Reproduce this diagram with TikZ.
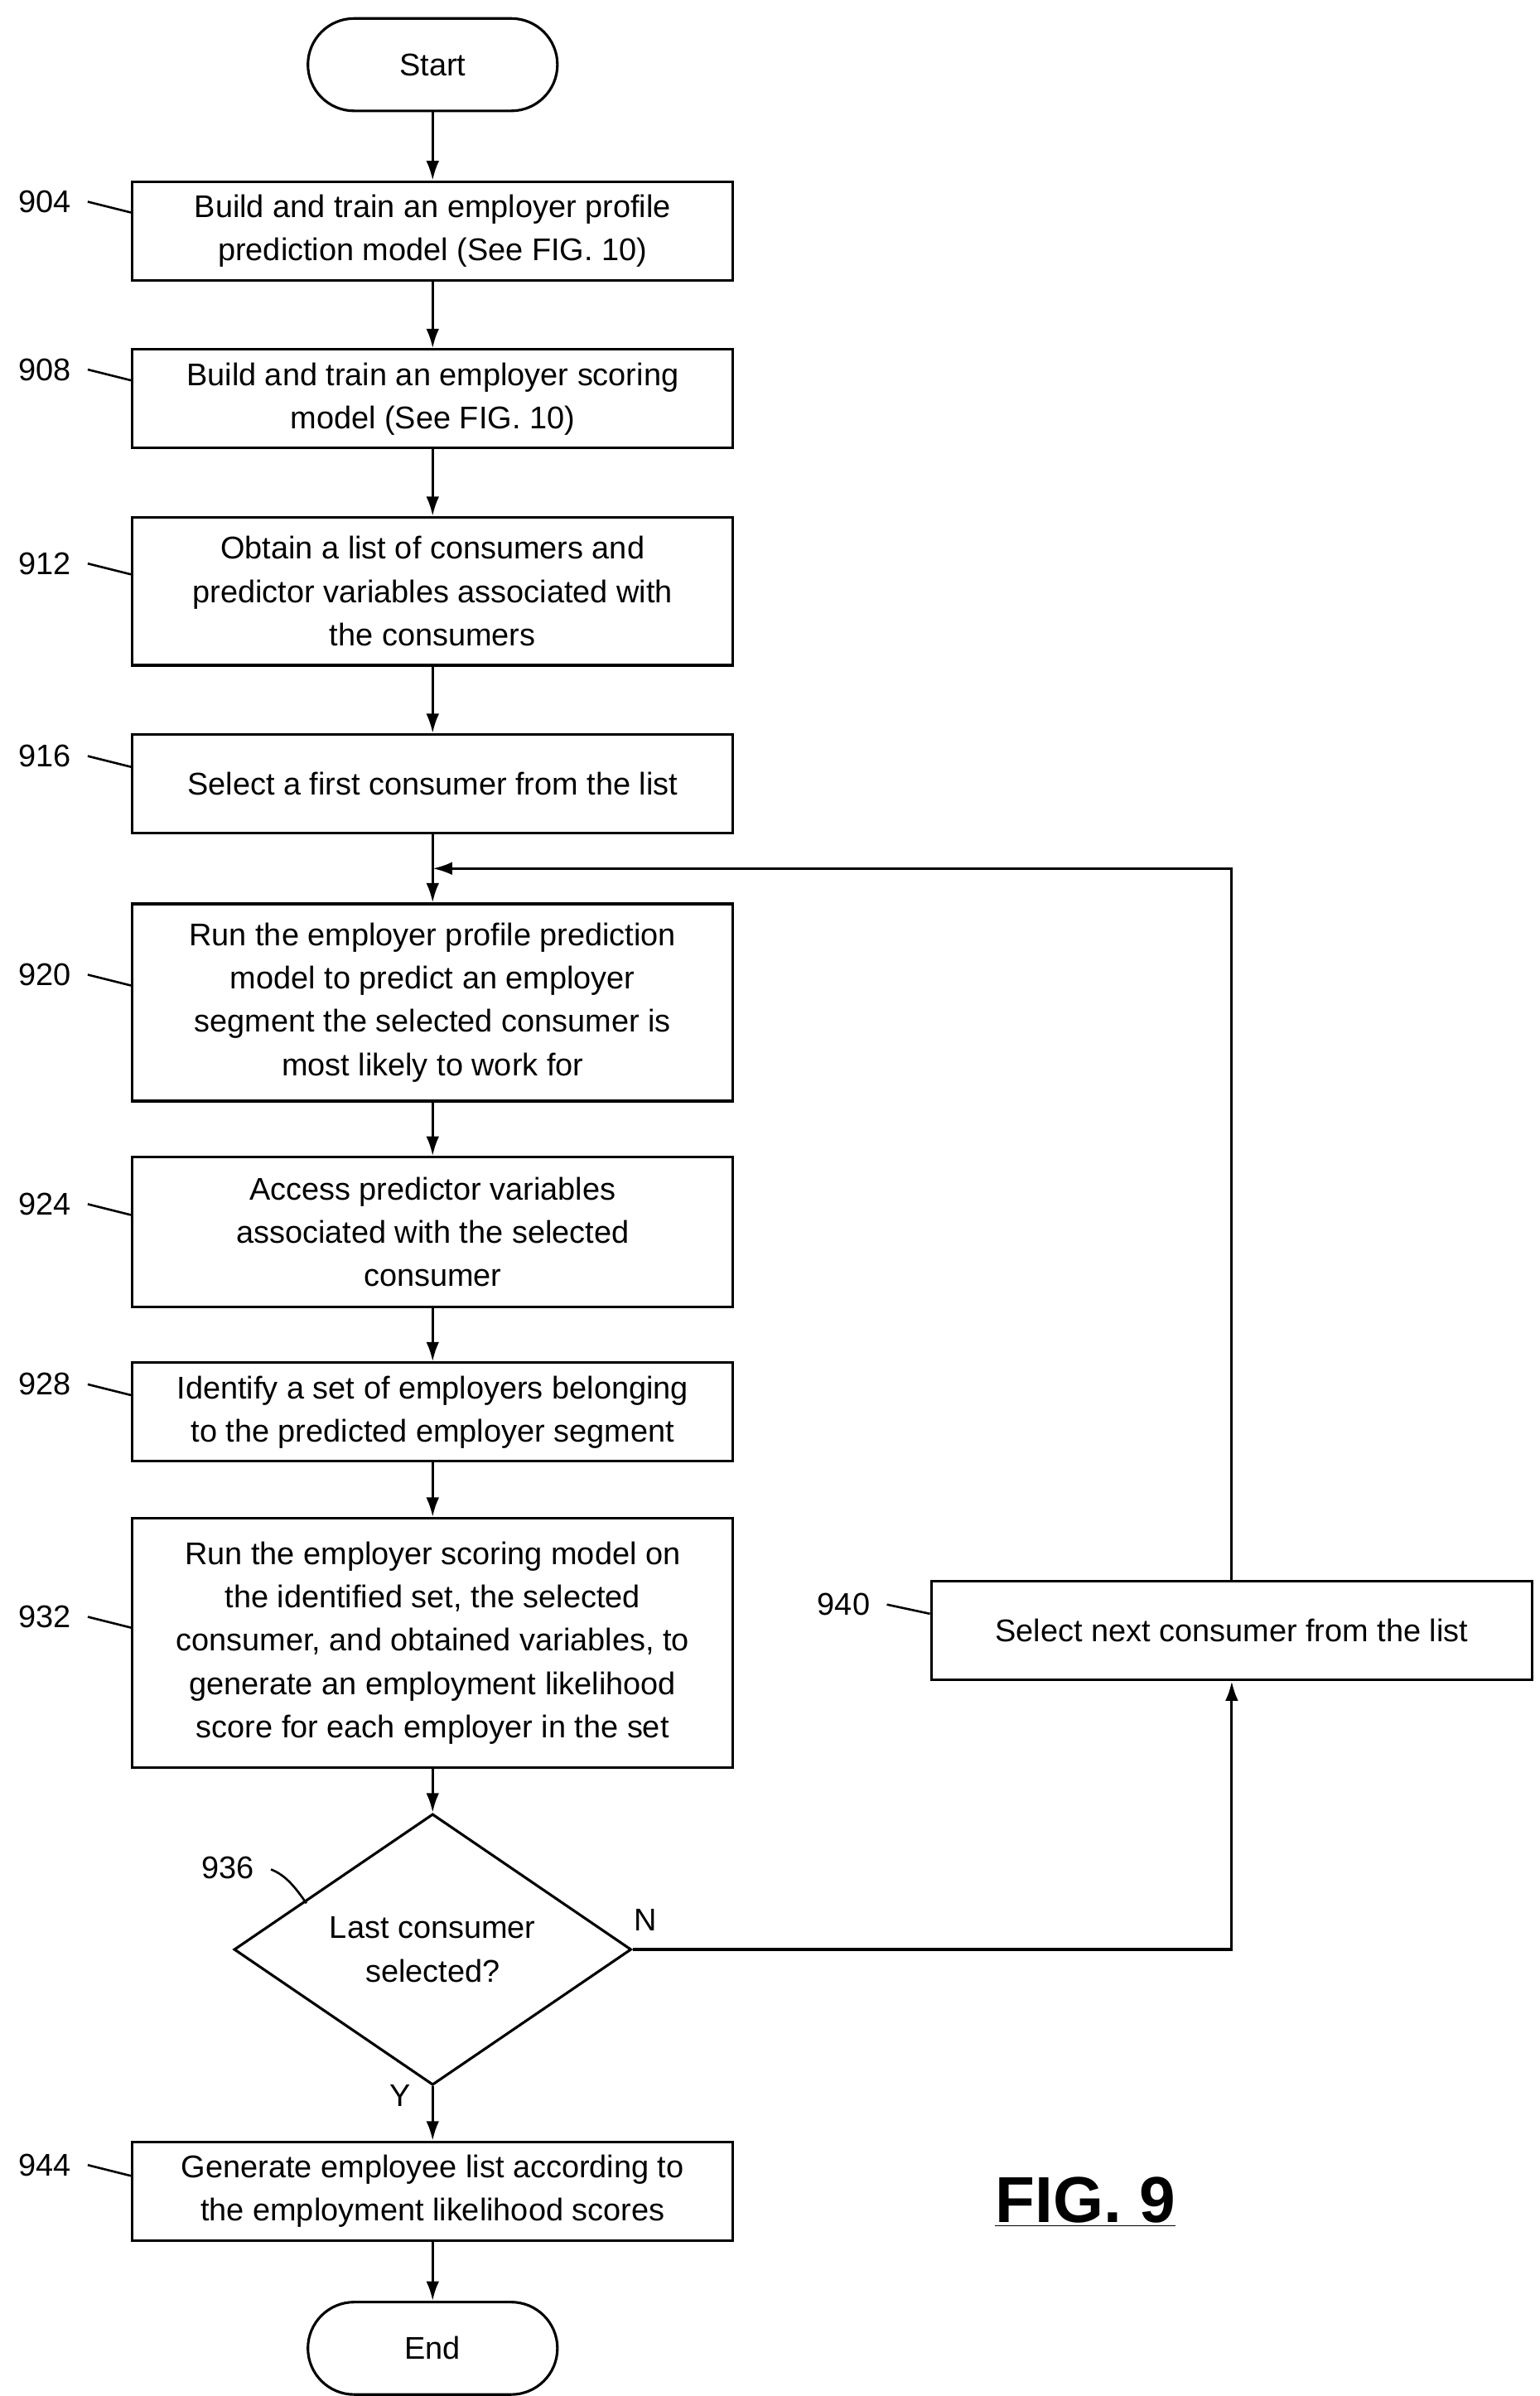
\documentclass[tikz,border=0pt]{standalone}
\usepackage{fontspec}
\setmainfont{Liberation Sans}
\usetikzlibrary{shapes.geometric,arrows.meta}
\begin{document}
\begin{tikzpicture}[x=0.025cm,y=-0.025cm,
  every node/.style={font=\fontsize{14.5}{20}\selectfont},
  box/.style={draw,line width=1.2pt,minimum width=9.75cm,align=center,inner sep=0pt},
  term/.style={draw,line width=1.2pt,rounded corners=0.75cm,minimum width=4.05cm,minimum height=1.5cm},
  dia/.style={draw,line width=1.2pt,diamond,minimum width=6.45cm,minimum height=4cm,inner sep=0pt,align=center},
  arr/.style={line width=1.2pt,-{Latex[length=9pt,width=6pt]}},
  lead/.style={line width=1pt},
  lab/.style={anchor=center}]
\useasboundingbox (0,0) rectangle (1000,1556);
\node[term] (s) at (281,42) {Start};
\node[box,minimum height=1.6cm] (b904) at (281,150) {Build and train an employer profile\\prediction model (See FIG. 10)};
\node[box,minimum height=1.6cm] (b908) at (281,259) {Build and train an employer scoring\\model (See FIG. 10)};
\node[box,minimum height=2.4cm] (b912) at (281,384) {Obtain a list of consumers and\\predictor variables associated with\\the consumers};
\node[box,minimum height=1.6cm] (b916) at (281,509) {Select a first consumer from the list};
\node[box,minimum height=3.2cm] (b920) at (281,651) {Run the employer profile prediction\\model to predict an employer\\segment the selected consumer is\\most likely to work for};
\node[box,minimum height=2.425cm] (b924) at (281,800) {Access predictor variables\\associated with the selected\\consumer};
\node[box,minimum height=1.6cm] (b928) at (281,917) {Identify a set of employers belonging\\to the predicted employer segment};
\node[box,minimum height=4.05cm] (b932) at (281,1067) {Run the employer scoring model on\\the identified set, the selected\\consumer, and obtained variables, to\\generate an employment likelihood\\score for each employer in the set};
\node[dia] (d936) at (281,1266) {Last consumer\\selected?};
\node[box,minimum height=1.6cm] (b944) at (281,1423) {Generate employee list according to\\the employment likelihood scores};
\node[term] (e) at (281,1525) {End};
\node[box,minimum height=1.6cm] (b940) at (800,1059) {Select next consumer from the list};
\coordinate (j) at (281,564);
\coordinate (c1) at (800,564);
\coordinate (c2) at (800,1266);
\draw[arr] (s) -- (b904);
\draw[arr] (b904) -- (b908);
\draw[arr] (b908) -- (b912);
\draw[arr] (b912) -- (b916);
\draw[line width=1.2pt] (b916) -- (j);
\draw[arr] (j) -- (b920);
\draw[arr] (b920) -- (b924);
\draw[arr] (b924) -- (b928);
\draw[arr] (b928) -- (b932);
\draw[arr] (b932) -- (d936);
\draw[arr] (d936) -- (b944);
\draw[arr] (b944) -- (e);
\draw[arr] (d936.east) -- (c2) -- (b940.south);
\draw[arr] (b940.north) -- (c1) -- (j);
\node (N) at (419,1247) {N};
\node (Y) at (260,1361) {Y};
\foreach \n/\y in {904/131,908/240,912/366,916/491,920/633,924/782,928/899,932/1050,944/1406}{
  \node[lab] (l\n) at (29,\y) {\n};
  \draw[lead] (57,\y) -- (85,\y+7);
}
\node[lab] (l940) at (548,1042) {940};
\draw[lead] (576,1042) -- (604,1048);
\node[lab] (l936) at (148,1213) {936};
\draw[lead] (176,1214) .. controls (186,1218) and (192,1226) .. (199,1236);
\node (fig) at (705,1430) {\fontsize{30}{36}\selectfont\bfseries\underline{FIG. 9}};
\end{tikzpicture}
\end{document}
